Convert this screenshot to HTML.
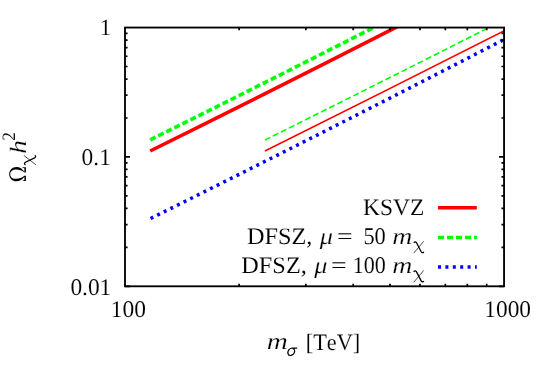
<!DOCTYPE html>
<html><head><meta charset="utf-8"><title>plot</title>
<style>html,body{margin:0;padding:0;background:#fff;}svg{display:block;will-change:transform;}text{font-family:"Liberation Serif",serif;fill:#000;font-kerning:none;text-rendering:geometricPrecision;}</style></head><body>
<svg width="545" height="382" viewBox="0 0 545 382">
<rect x="0" y="0" width="545" height="382" fill="#fff"/>
<clipPath id="c"><rect x="125.0" y="27.55" width="379.05" height="258.75"/></clipPath>
<g clip-path="url(#c)">
<path d="M150.55 218.50Q335.27 126.97 520.00 31.17" fill="none" stroke="#0000ff" stroke-width="3.5" stroke-dasharray="3 4.4"/>
<path d="M264.90 151.06Q392.45 87.59 520.00 22.82" fill="none" stroke="#ff0000" stroke-width="1.6"/>
<path d="M264.90 140.05Q392.45 76.58 520.00 11.81" fill="none" stroke="#00ff00" stroke-width="1.6" stroke-dasharray="6 3"/>
<path d="M150.20 151.00Q285.10 84.16 420.00 15.04" fill="none" stroke="#ff0000" stroke-width="3.6"/>
<path d="M150.20 139.80Q275.10 77.91 400.00 14.07" fill="none" stroke="#00ff00" stroke-width="3.6" stroke-dasharray="6 3"/>
</g>
<line x1="438" y1="207.7" x2="476.8" y2="207.7" stroke="#ff0000" stroke-width="3.5"/>
<line x1="438" y1="237.4" x2="476.8" y2="237.4" stroke="#00ff00" stroke-width="3.5" stroke-dasharray="6 3"/>
<line x1="438" y1="266.9" x2="476.8" y2="266.9" stroke="#0000ff" stroke-width="3.5" stroke-dasharray="3 4.4"/>
<path d="M125.0 156.93h5.0M504.05 156.93h-5.0M125.0 117.98h2.6M504.05 117.98h-2.6M125.0 95.20h2.6M504.05 95.20h-2.6M125.0 79.03h2.6M504.05 79.03h-2.6M125.0 66.50h2.6M504.05 66.50h-2.6M125.0 56.25h2.6M504.05 56.25h-2.6M125.0 47.59h2.6M504.05 47.59h-2.6M125.0 40.09h2.6M504.05 40.09h-2.6M125.0 33.47h2.6M504.05 33.47h-2.6M125.0 286.30h5.0M504.05 286.30h-5.0M125.0 247.35h2.6M504.05 247.35h-2.6M125.0 224.57h2.6M504.05 224.57h-2.6M125.0 208.41h2.6M504.05 208.41h-2.6M125.0 195.87h2.6M504.05 195.87h-2.6M125.0 185.63h2.6M504.05 185.63h-2.6M125.0 176.97h2.6M504.05 176.97h-2.6M125.0 169.46h2.6M504.05 169.46h-2.6M125.0 162.84h2.6M504.05 162.84h-2.6M239.11 27.55v2.6M239.11 286.3v-2.6M305.85 27.55v2.6M305.85 286.3v-2.6M353.21 27.55v2.6M353.21 286.3v-2.6M389.94 27.55v2.6M389.94 286.3v-2.6M419.96 27.55v2.6M419.96 286.3v-2.6M445.33 27.55v2.6M445.33 286.3v-2.6M467.32 27.55v2.6M467.32 286.3v-2.6M486.71 27.55v2.6M486.71 286.3v-2.6" stroke="#000" stroke-width="1.7" fill="none"/>
<rect x="125.0" y="27.55" width="379.05" height="258.75" fill="none" stroke="#000" stroke-width="1.85"/>
<text transform="translate(99.68,35.00) scale(0.9917,1.0000)" font-size="23.2" stroke="#fff" stroke-width="0.101">1</text>
<text transform="translate(81.61,165.10) scale(0.9731,1.0000)" font-size="24.0" stroke="#fff" stroke-width="0.103">0.1</text>
<text transform="translate(70.41,294.60) scale(0.9737,1.0000)" font-size="24.0" stroke="#fff" stroke-width="0.103">0.01</text>
<text transform="translate(110.84,317.30) scale(0.9765,1.0000)" font-size="24.0" stroke="#fff" stroke-width="0.102">100</text>
<text transform="translate(484.35,317.30) scale(0.9716,1.0000)" font-size="24.0" stroke="#fff" stroke-width="0.103">1000</text>
<text transform="translate(266.75,349.40) scale(1.2369,1.0000)" font-size="23.6" font-style="italic" stroke="#fff" stroke-width="0.202">m</text>
<path d="M297.20 348.00L292.16 348.00C289.25 348.17 287.50 351.22 287.99 353.56C288.47 356.00 291.19 355.91 292.93 354.61C295.26 352.69 295.26 349.21 292.83 348.08" fill="none" stroke="#000" stroke-width="1.25"/>
<text transform="translate(305.75,349.60) scale(0.9437,1.0000)" font-size="23.6" stroke="#fff" stroke-width="0.106">[TeV]</text>
<text transform="translate(363.12,215.00) scale(0.9940,1.0000)" font-size="23.6" stroke="#fff" stroke-width="0.101">KSVZ</text>
<text transform="translate(246.90,243.60) scale(1.0302,1.0000)" font-size="23.6" stroke="#fff" stroke-width="0.097">DFSZ,</text>
<text transform="translate(319.63,243.60) scale(1.1186,1.0000)" font-size="23.6" font-style="italic" stroke="#fff" stroke-width="0.223">μ</text>
<text transform="translate(337.02,244.10) scale(1.1747,1.0000)" font-size="23.6" stroke="#fff" stroke-width="0.085">=</text>
<text transform="translate(363.40,243.60) scale(0.9312,1.0000)" font-size="24.0" stroke="#fff" stroke-width="0.107">50</text>
<text transform="translate(392.20,243.60) scale(1.1777,1.0000)" font-size="23.6" font-style="italic" stroke="#fff" stroke-width="0.212">m</text>
<path d="M413.81 242.88C414.24 241.80 415.60 241.32 416.55 242.76L421.17 251.76C421.90 253.08 423.26 252.96 423.79 251.88" fill="none" stroke="#000" stroke-width="1.3"/>
<path d="M423.69 241.32L413.81 253.08" fill="none" stroke="#000" stroke-width="0.7"/>
<text transform="translate(241.30,272.70) scale(1.0302,1.0000)" font-size="23.6" stroke="#fff" stroke-width="0.097">DFSZ,</text>
<text transform="translate(314.13,272.70) scale(1.1186,1.0000)" font-size="23.6" font-style="italic" stroke="#fff" stroke-width="0.223">μ</text>
<text transform="translate(331.12,273.20) scale(1.1747,1.0000)" font-size="23.6" stroke="#fff" stroke-width="0.085">=</text>
<text transform="translate(352.77,272.70) scale(0.9158,1.0000)" font-size="24.0" stroke="#fff" stroke-width="0.109">100</text>
<text transform="translate(392.20,272.70) scale(1.1777,1.0000)" font-size="23.6" font-style="italic" stroke="#fff" stroke-width="0.212">m</text>
<path d="M413.81 271.98C414.24 270.90 415.60 270.42 416.55 271.86L421.17 280.86C421.90 282.18 423.26 282.06 423.79 280.98" fill="none" stroke="#000" stroke-width="1.3"/>
<path d="M423.69 270.42L413.81 282.18" fill="none" stroke="#000" stroke-width="0.7"/>
<g transform="translate(25.9,182) rotate(-90)">
<path d="M5.85 -1.17C2.42 -3.34 0.70 -6.18 0.70 -9.52C0.70 -13.53 3.85 -16.70 7.85 -16.70C11.85 -16.70 15.00 -13.53 15.00 -9.52C15.00 -6.18 13.28 -3.34 9.85 -1.17L9.57 -1.67C11.85 -4.01 12.57 -6.68 12.57 -9.52C12.57 -13.36 10.71 -15.70 7.85 -15.70C4.99 -15.70 3.13 -13.36 3.13 -9.52C3.13 -6.68 3.85 -4.01 6.13 -1.67ZM0.99 0.00L0.99 -3.34L1.42 -3.34L1.84 -1.50L6.13 -1.50L6.13 0.00ZM14.71 0.00L14.71 -3.34L14.29 -3.34L13.86 -1.50L9.57 -1.50L9.57 0.00Z" fill="#000"/>
<path d="M17.20 -0.38C17.59 -1.49 18.88 -1.98 19.77 -0.50L24.13 8.72C24.82 10.08 26.11 9.95 26.60 8.85" fill="none" stroke="#000" stroke-width="1.3"/>
<path d="M26.50 -1.98L17.20 10.08" fill="none" stroke="#000" stroke-width="0.7"/>
<text transform="translate(27.99,0.00) scale(1.1939,1.0000)" font-size="23.4" font-style="italic" stroke="#fff" stroke-width="0.209">h</text>
<text transform="translate(41.14,-11.00) scale(0.9107,1.0000)" font-size="18.9" stroke="#fff" stroke-width="0.110">2</text>
</g>
</svg></body></html>
